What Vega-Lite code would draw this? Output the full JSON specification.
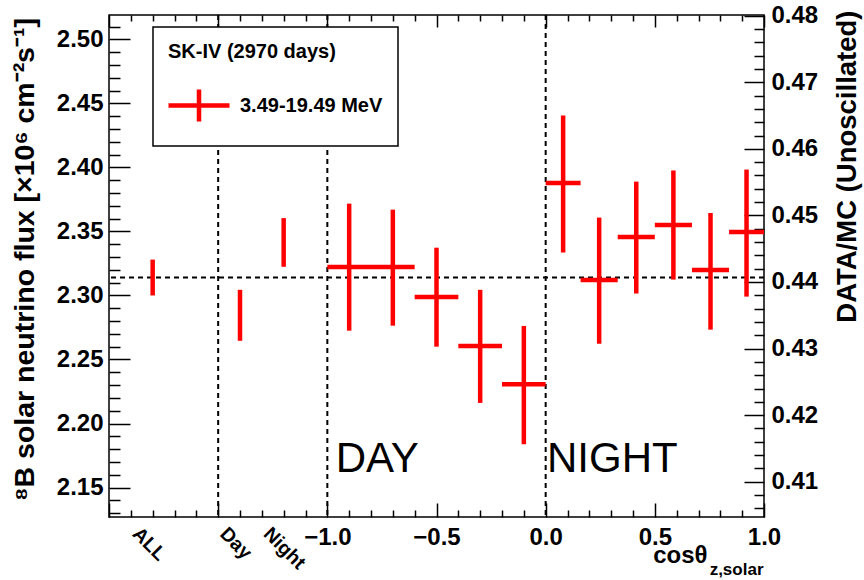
{
  "$schema": "https://vega.github.io/schema/vega-lite/v6.json",
  "width": 655,
  "height": 502,
  "autosize": {"type": "none"},
  "padding": {"left": 109, "top": 15, "right": 100, "bottom": 63},
  "background": "white",
  "datasets": {
    "bins": [
      {"label": "ALL", "x": -1.8, "lo": 2.300, "c": 2.314, "hi": 2.328, "ratio": 0.4407, "series": "3.49-19.49 MeV"},
      {"label": "Day", "x": -1.4, "lo": 2.2646, "c": 2.2845, "hi": 2.3044, "ratio": 0.4350, "series": "3.49-19.49 MeV"},
      {"label": "Night", "x": -1.2, "lo": 2.3224, "c": 2.3414, "hi": 2.3604, "ratio": 0.4460, "series": "3.49-19.49 MeV"},
      {"label": "D1", "x": -0.9, "xlo": -1.0, "xhi": -0.8, "lo": 2.2725, "c": 2.3222, "hi": 2.3717, "ratio": 0.4423, "series": "3.49-19.49 MeV"},
      {"label": "D2", "x": -0.7, "xlo": -0.8, "xhi": -0.6, "lo": 2.2764, "c": 2.3222, "hi": 2.3670, "ratio": 0.4423, "series": "3.49-19.49 MeV"},
      {"label": "D3", "x": -0.5, "xlo": -0.6, "xhi": -0.4, "lo": 2.2600, "c": 2.2987, "hi": 2.3373, "ratio": 0.4377, "series": "3.49-19.49 MeV"},
      {"label": "D4", "x": -0.3, "xlo": -0.4, "xhi": -0.2, "lo": 2.2161, "c": 2.2605, "hi": 2.3044, "ratio": 0.4304, "series": "3.49-19.49 MeV"},
      {"label": "D5", "x": -0.1, "xlo": -0.2, "xhi": 0.0, "lo": 2.1838, "c": 2.2306, "hi": 2.2762, "ratio": 0.4247, "series": "3.49-19.49 MeV"},
      {"label": "N1", "x": 0.08, "xlo": 0.0, "xhi": 0.16, "lo": 2.3336, "c": 2.3879, "hi": 2.4406, "ratio": 0.4549, "series": "3.49-19.49 MeV"},
      {"label": "N2", "x": 0.245, "xlo": 0.16, "xhi": 0.33, "lo": 2.2623, "c": 2.3120, "hi": 2.3608, "ratio": 0.4403, "series": "3.49-19.49 MeV"},
      {"label": "N3", "x": 0.415, "xlo": 0.33, "xhi": 0.5, "lo": 2.3015, "c": 2.3456, "hi": 2.3889, "ratio": 0.4468, "series": "3.49-19.49 MeV"},
      {"label": "N4", "x": 0.585, "xlo": 0.5, "xhi": 0.67, "lo": 2.3124, "c": 2.3550, "hi": 2.3976, "ratio": 0.4486, "series": "3.49-19.49 MeV"},
      {"label": "N5", "x": 0.755, "xlo": 0.67, "xhi": 0.84, "lo": 2.2733, "c": 2.3198, "hi": 2.3644, "ratio": 0.4418, "series": "3.49-19.49 MeV"},
      {"label": "N6", "x": 0.92, "xlo": 0.84, "xhi": 1.0, "lo": 2.2991, "c": 2.3496, "hi": 2.3983, "ratio": 0.4475, "series": "3.49-19.49 MeV"}
    ],
    "vlines": [{"pos": -1.5}, {"pos": -1.0}, {"pos": 0.0}],
    "hline": [{"flux": 2.314}],
    "words": [{"word": "DAY", "x": -0.962, "y": 2.162}, {"word": "NIGHT", "x": 0.006, "y": 2.162}]
  },
  "layer": [
    {
      "data": {"name": "vlines"},
      "mark": {"type": "rule", "color": "black", "strokeWidth": 2, "strokeDash": [5, 4]},
      "encoding": {
        "x": {
          "field": "pos", "type": "quantitative",
          "scale": {"domain": [-2, 1], "nice": false, "zero": false},
          "axis": {
            "orient": "bottom",
            "values": [-1, -0.5, 0, 0.5, 1],
            "format": ".1f",
            "ticks": false,
            "labelFontSize": 24,
            "labelPadding": 8,
            "title": "cosθ",
            "titleFontSize": 24,
            "titleAlign": "right",
            "titleBaseline": "alphabetic",
            "titleX": 598,
            "titleY": 45
          }
        }
      }
    },
    {
      "data": {"name": "hline"},
      "mark": {"type": "rule", "color": "black", "strokeWidth": 2, "strokeDash": [5, 4]},
      "encoding": {
        "y": {
          "field": "flux", "type": "quantitative",
          "scale": {"domain": [2.127, 2.519], "nice": false, "zero": false},
          "axis": {
            "orient": "left",
            "values": [2.15, 2.2, 2.25, 2.3, 2.35, 2.4, 2.45, 2.5],
            "format": ".2f",
            "ticks": false,
            "labelFontSize": 24,
            "labelPadding": 6,
            "title": "⁸B solar neutrino flux [×10⁶ cm⁻²s⁻¹]",
            "titleFontSize": 28.5,
            "titleAngle": 270,
            "titleAlign": "center",
            "titleBaseline": "middle",
            "titleX": -85,
            "titleY": 244
          }
        }
      }
    },
    {
      "data": {"name": "bins"},
      "mark": {"type": "rule", "strokeWidth": 4.5},
      "encoding": {
        "x": {
          "field": "x", "type": "quantitative",
          "scale": {"domain": [-2, 1], "nice": false, "zero": false},
          "axis": {
            "orient": "top",
            "offset": -502,
            "values": [-2,-1.9,-1.8,-1.7,-1.6,-1.5,-1.4,-1.3,-1.2,-1.1,-1,-0.9,-0.8,-0.7,-0.6,-0.5,-0.4,-0.3,-0.2,-0.1,0,0.1,0.2,0.3,0.4,0.5,0.6,0.7,0.8,0.9,1],
            "labels": false,
            "tickSize": {"condition": {"test": "abs(datum.value*2 - round(datum.value*2)) < 0.001", "value": 14}, "value": 7},
            "title": null
          }
        },
        "y": {
          "field": "lo", "type": "quantitative",
          "scale": {"domain": [2.127, 2.519], "nice": false, "zero": false},
          "axis": {
            "orient": "right",
            "offset": -655,
            "values": [2.13,2.14,2.15,2.16,2.17,2.18,2.19,2.2,2.21,2.22,2.23,2.24,2.25,2.26,2.27,2.28,2.29,2.3,2.31,2.32,2.33,2.34,2.35,2.36,2.37,2.38,2.39,2.4,2.41,2.42,2.43,2.44,2.45,2.46,2.47,2.48,2.49,2.5,2.51],
            "labels": false,
            "tickSize": {"condition": {"test": "abs(datum.value*20 - round(datum.value*20)) < 0.001", "value": 21}, "value": 11},
            "title": null
          }
        },
        "y2": {"field": "hi"},
        "color": {
          "field": "series", "type": "nominal",
          "scale": {"range": ["#ff0000"]},
          "legend": {
            "title": "SK-IV (2970 days)",
            "orient": "none",
            "legendX": 44,
            "legendY": 12,
            "padding": 15,
            "strokeColor": "black",
            "fillColor": "white",
            "titleFont": "Liberation Sans",
            "titleFontSize": 20,
            "titleFontWeight": "bold",
            "titleColor": "black",
            "titlePadding": 31,
            "labelFont": "Liberation Sans",
            "labelFontSize": 20,
            "labelFontWeight": "bold",
            "labelColor": "black",
            "symbolType": "M-1.2,0H4.9M1.85,-1.6V1.6",
            "symbolSize": 400,
            "symbolStrokeWidth": 4.5,
            "symbolStrokeColor": "#ff0000",
            "labelOffset": 47
          }
        }
      }
    },
    {
      "data": {"name": "bins"},
      "transform": [{"filter": "datum.xlo != null"}],
      "mark": {"type": "rule", "strokeWidth": 4.5},
      "encoding": {
        "x": {
          "field": "xlo", "type": "quantitative",
          "scale": {"domain": [-2, 1], "nice": false, "zero": false},
          "axis": {
            "orient": "bottom",
            "values": [-1.8, -1.4, -1.2],
            "labelExpr": "datum.value < -1.7 ? 'ALL' : (datum.value < -1.3 ? 'Day' : 'Night')",
            "ticks": false,
            "labelAngle": 45,
            "labelAlign": "left",
            "labelBaseline": "top",
            "labelFontSize": 19.5,
            "labelPadding": 7,
            "labelOffset": -11,
            "title": "z,solar",
            "titleFontSize": 17,
            "titleAlign": "right",
            "titleBaseline": "alphabetic",
            "titleX": 654,
            "titleY": 57
          }
        },
        "x2": {"field": "xhi"},
        "y": {"field": "c", "type": "quantitative", "scale": {"domain": [2.127, 2.519], "nice": false, "zero": false}, "axis": null},
        "color": {"field": "series", "type": "nominal", "scale": {"range": ["#ff0000"]}}
      }
    },
    {
      "data": {"name": "words"},
      "mark": {"type": "text", "font": "Liberation Sans", "fontSize": 42, "fontWeight": "normal", "align": "left", "baseline": "alphabetic", "color": "black"},
      "encoding": {
        "x": {
          "field": "x", "type": "quantitative",
          "scale": {"domain": [-2, 1], "nice": false, "zero": false},
          "axis": {
            "orient": "bottom",
            "offset": -502,
            "values": [-2,-1.9,-1.8,-1.7,-1.6,-1.5,-1.4,-1.3,-1.2,-1.1,-1,-0.9,-0.8,-0.7,-0.6,-0.5,-0.4,-0.3,-0.2,-0.1,0,0.1,0.2,0.3,0.4,0.5,0.6,0.7,0.8,0.9,1],
            "labels": false,
            "tickSize": {"condition": {"test": "abs(datum.value*2 - round(datum.value*2)) < 0.001", "value": 12}, "value": 6},
            "title": null
          }
        },
        "y": {"field": "y", "type": "quantitative", "scale": {"domain": [2.127, 2.519], "nice": false, "zero": false}, "axis": null},
        "text": {"field": "word"}
      }
    },
    {
      "data": {"name": "bins"},
      "mark": {"type": "point", "opacity": 0},
      "encoding": {
        "y": {
          "field": "ratio", "type": "quantitative",
          "scale": {"domain": [0.4047, 0.4801], "nice": false, "zero": false},
          "axis": {
            "orient": "right",
            "values": [0.41, 0.42, 0.43, 0.44, 0.45, 0.46, 0.47, 0.48],
            "format": ".2f",
            "ticks": false,
            "labelFontSize": 24,
            "labelPadding": 7,
            "title": "DATA/MC (Unoscillated)",
            "titleFontSize": 27.5,
            "titleAngle": 270,
            "titleAlign": "right",
            "titleBaseline": "middle",
            "titleX": 83,
            "titleY": -5
          }
        }
      }
    },
    {
      "data": {"name": "bins"},
      "mark": {"type": "point", "opacity": 0},
      "encoding": {
        "y": {
          "field": "ratio", "type": "quantitative",
          "scale": {"domain": [0.4047, 0.4801], "nice": false, "zero": false},
          "axis": {
            "orient": "left",
            "offset": -655,
            "values": [0.406,0.408,0.41,0.412,0.414,0.416,0.418,0.42,0.422,0.424,0.426,0.428,0.43,0.432,0.434,0.436,0.438,0.44,0.442,0.444,0.446,0.448,0.45,0.452,0.454,0.456,0.458,0.46,0.462,0.464,0.466,0.468,0.47,0.472,0.474,0.476,0.478,0.48],
            "labels": false,
            "tickSize": {"condition": {"test": "abs(datum.value*100 - round(datum.value*100)) < 0.001", "value": 20}, "value": 10},
            "title": null
          }
        }
      }
    }
  ],
  "resolve": {"scale": {"y": "independent"}, "axis": {"x": "independent", "y": "independent"}},
  "config": {
    "font": "Liberation Sans",
    "view": {"stroke": "black", "strokeWidth": 1.5},
    "legend": {"strokeWidth": 1.5},
    "axis": {
      "labelFont": "Liberation Sans", "labelFontWeight": "bold", "labelColor": "black",
      "titleFont": "Liberation Sans", "titleFontWeight": "bold", "titleColor": "black",
      "tickColor": "black", "tickWidth": 1.5, "domain": false, "grid": false,
      "labelFlush": false, "labelOverlap": false, "labelBound": false
    }
  }
}
